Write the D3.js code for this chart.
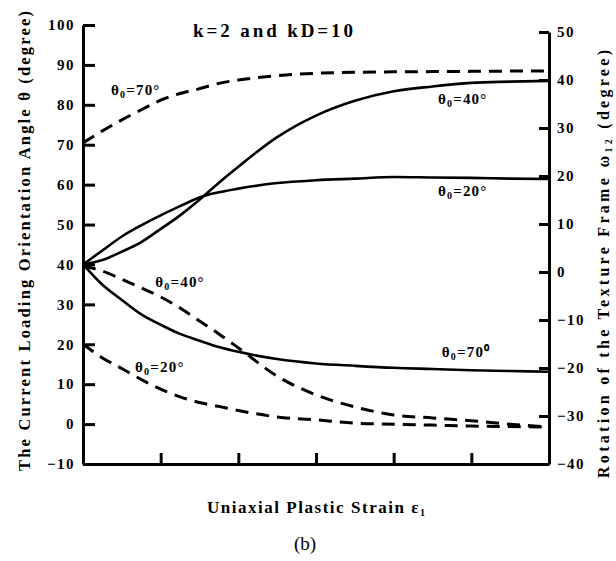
<!DOCTYPE html>
<html>
<head>
<meta charset="utf-8">
<script src="https://cdn.jsdelivr.net/npm/d3@7"></script>
<style>
    body { margin: 0; background: #fff; }
    svg { display: block; font-family: "Liberation Serif", "Times New Roman", serif; }
</style>
</head>
<body>
<div class="grafic"></div>
<script>

// uniaxial plastic strain (axis has no numbers, only 5 inner ticks)
const strain = [0, 0.25, 0.5, 0.75, 1, 1.25, 1.5, 1.75, 2, 2.5, 3, 3.5, 4, 4.5, 5, 5.5, 6];

// current loading orientation angle theta (left axis) - solid lines
const theta20 = [40, 43.5, 47.0, 49.8, 52.3, 54.6, 56.8, 58.1, 59.0, 60.4, 61.1, 61.5, 61.9, 61.8, 61.7, 61.5, 61.4];
const theta40 = [40, 41.1, 43.2, 45.6, 48.9, 52.3, 56.2, 60.5, 64.5, 71.9, 77.3, 81.0, 83.4, 84.6, 85.5, 85.8, 86.0];
const theta70 = [40, 34.9, 31.1, 27.5, 24.9, 22.6, 20.9, 19.3, 18.1, 16.3, 15.2, 14.6, 14.1, 13.8, 13.5, 13.3, 13.1];

// rotation of the texture frame omega12 (right axis) - dashed lines
const omega20 = [-15, -17.9, -20.1, -22.4, -24.4, -26.0, -27.2, -28.0, -28.85, -30.2, -30.8, -31.5, -31.7, -31.9, -32.1, -32.2, -32.3];
const omega40 = [1.25, 0.2, -1.5, -3.3, -5.2, -7.5, -10.2, -12.9, -15.8, -21.7, -25.6, -28.1, -29.8, -30.4, -31.0, -31.7, -32.3];
const omega70 = [26.9, 29.4, 31.7, 33.8, 35.8, 37.2, 38.2, 39.3, 40.0, 40.9, 41.4, 41.6, 41.7, 41.75, 41.8, 41.85, 41.9];

const leftTicks = [-10, 0, 10, 20, 30, 40, 50, 60, 70, 80, 90, 100];
const rightTicks = [-40, -30, -20, -10, 0, 10, 20, 30, 40, 50];
const strainTicks = [1, 2, 3, 4, 5];

// curve labels: initial angle, degree sign, anchor (strain, theta)
const curveLabels = [
    { init: "70", deg: "\u00b0", x: 0.36, y: 82.5 },
    { init: "40", deg: "\u00b0", x: 4.57, y: 80.2 },
    { init: "20", deg: "\u00b0", x: 4.57, y: 57.15 },
    { init: "40", deg: "\u00b0", x: 0.93, y: 34.35 },
    { init: "20", deg: "\u00b0", x: 0.67, y: 13.05 },
    { init: "70", deg: "\u2070", x: 4.62, y: 16.8 }
];

let w = 616, h = 561;

let svg = d3.select(".grafic")
    .append("svg")
    .attr("width", w)
    .attr("height", h);

let xScale = d3.scaleLinear().domain([0, 6]).range([83, 549]);
let yLeft = d3.scaleLinear().domain([-10, 100]).range([464, 25]);
let yRight = d3.scaleLinear().domain([-40, 50]).range([464, 32]);

let lineLeft = d3.line()
    .x((d, i) => xScale(strain[i]))
    .y(d => yLeft(d))
    .curve(d3.curveMonotoneX);

let lineRight = d3.line()
    .x((d, i) => xScale(strain[i]))
    .y(d => yRight(d))
    .curve(d3.curveMonotoneX);

[theta20, theta40, theta70].forEach(s => {
    svg.append("path")
        .attr("d", lineLeft(s))
        .attr("fill", "none")
        .attr("stroke", "#000")
        .attr("stroke-width", 2.6);
});

[omega20, omega40, omega70].forEach(s => {
    svg.append("path")
        .attr("d", lineRight(s))
        .attr("fill", "none")
        .attr("stroke", "#000")
        .attr("stroke-width", 3)
        .attr("stroke-dasharray", "13,8");
});

// axes
let styleAxis = function (g, size) {
    g.selectAll("path, line").attr("stroke", "#000").attr("stroke-width", 3);
    g.selectAll("text")
        .attr("fill", "#000")
        .attr("font-family", "Liberation Serif, serif")
        .attr("font-weight", "bold")
        .attr("font-size", size)
        .attr("letter-spacing", 1.5);
};

svg.append("g")
    .attr("transform", "translate(83,0)")
    .call(d3.axisLeft(yLeft).tickValues(leftTicks).tickSize(-12).tickSizeOuter(0).tickPadding(8))
    .call(g => styleAxis(g, 15));

svg.append("g")
    .attr("transform", "translate(549,0)")
    .call(d3.axisRight(yRight).tickValues(rightTicks).tickSize(-10).tickSizeOuter(0).tickPadding(8))
    .call(g => styleAxis(g, 15));

svg.append("g")
    .attr("transform", "translate(0,464)")
    .call(d3.axisBottom(xScale).tickValues(strainTicks).tickSize(-11).tickSizeOuter(0).tickFormat(""))
    .call(g => styleAxis(g, 15));

// curve labels
curveLabels.forEach(d => {
    let t = svg.append("text")
        .attr("x", xScale(d.x))
        .attr("y", yLeft(d.y))
        .attr("font-size", 15)
        .attr("font-weight", "bold")
        .attr("letter-spacing", 1.2);
    t.append("tspan").text("\u03b8");
    t.append("tspan").attr("font-size", 10).attr("dy", 3).text("0");
    t.append("tspan").attr("dy", -3).text("=" + d.init + d.deg);
});

// title and axis titles
svg.append("text")
    .attr("x", 273).attr("y", 37)
    .attr("text-anchor", "middle")
    .attr("font-size", 19).attr("font-weight", "bold")
    .attr("textLength", 160).attr("lengthAdjust", "spacing")
    .text("k=2 and kD=10");

svg.append("text")
    .attr("transform", "translate(30,241) rotate(-90)")
    .attr("text-anchor", "middle")
    .attr("font-size", 16.5).attr("font-weight", "bold")
    .attr("textLength", 460).attr("lengthAdjust", "spacing")
    .text("The Current Loading Orientation Angle \u03b8 (degree)");

let rt = svg.append("text")
    .attr("transform", "translate(609,264) rotate(-90)")
    .attr("text-anchor", "middle")
    .attr("font-size", 16).attr("font-weight", "bold")
    .attr("textLength", 428).attr("lengthAdjust", "spacing");
rt.append("tspan").text("Rotation of the Texture Frame \u03c9");
rt.append("tspan").attr("font-size", 10).attr("dy", 3).text("12");
rt.append("tspan").attr("dy", -3).text(" (degree)");

let xt = svg.append("text")
    .attr("x", 316).attr("y", 513)
    .attr("text-anchor", "middle")
    .attr("font-size", 17).attr("font-weight", "bold")
    .attr("textLength", 218).attr("lengthAdjust", "spacing");
xt.append("tspan").text("Uniaxial Plastic Strain \u03b5");
xt.append("tspan").attr("font-size", 10).attr("dy", 3).text("1");

svg.append("text")
    .attr("x", 305).attr("y", 550)
    .attr("text-anchor", "middle")
    .attr("font-size", 19)
    .text("(b)");

</script>
</body>
</html>
